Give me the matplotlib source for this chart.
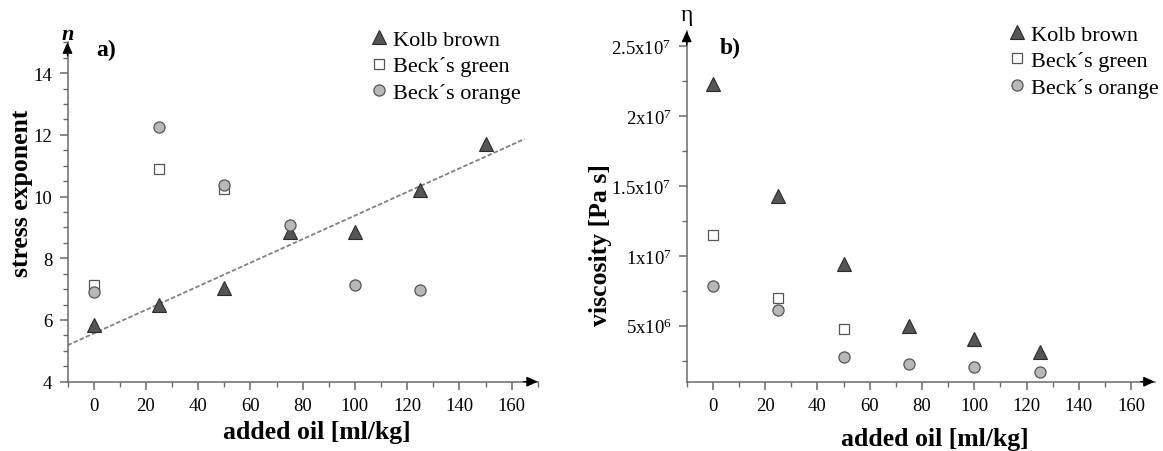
import numpy as np
import matplotlib
matplotlib.use("Agg")
import matplotlib.pyplot as plt
from matplotlib.ticker import MultipleLocator, FixedLocator, FixedFormatter

plt.rcParams['font.family'] = ['Liberation Serif', 'DejaVu Serif']
plt.rcParams['mathtext.fontset'] = 'custom'
plt.rcParams['mathtext.rm'] = 'Liberation Serif'

# ---- data ----
oil_kolb = [0, 25, 50, 75, 100, 125, 150]
n_kolb = [5.85, 6.5, 7.05, 8.85, 8.85, 10.2, 11.7]
oil_green = [0, 25, 50]
n_green = [7.15, 10.9, 10.25]
oil_orange = [0, 25, 50, 75, 100, 125]
n_orange = [6.9, 12.25, 10.38, 9.07, 7.15, 6.97]

oil_kolb_b = [0, 25, 50, 75, 100, 125]
eta_kolb = [2.23e7, 1.43e7, 9.4e6, 4.95e6, 4.05e6, 3.1e6]
oil_green_b = [0, 25, 50]
eta_green = [1.15e7, 6.95e6, 4.8e6]
oil_orange_b = [0, 25, 50, 75, 100, 125]
eta_orange = [7.85e6, 6.15e6, 2.75e6, 2.28e6, 2.07e6, 1.68e6]

labels = ["Kolb brown", "Beck\u00b4s green", "Beck\u00b4s orange"]
x_ticks = [0, 20, 40, 60, 80, 100, 120, 140, 160]
n_ticks = [4, 6, 8, 10, 12, 14]
eta_ticks = [5e6, 1e7, 1.5e7, 2e7, 2.5e7]
eta_ticklabels = [r'$\mathregular{5x10^{6}}$', r'$\mathregular{1x10^{7}}$',
                  r'$\mathregular{1.5x10^{7}}$', r'$\mathregular{2x10^{7}}$',
                  r'$\mathregular{2.5x10^{7}}$']

W, H = 1163, 452
fig = plt.figure(figsize=(W / 100, H / 100), dpi=100)

spine_col = '#6a6a6a'
tri_kw = dict(marker='^', ms=10, mfc='#555555', mec='#2a2a2a', mew=0.8, ls='none')
sq_kw = dict(marker='s', ms=7.5, mfc='white', mec='#555555', mew=0.9, ls='none')
ci_kw = dict(marker='o', ms=8, mfc='#b8b8b8', mec='#555555', mew=0.9, ls='none')

TICK_FS = 13.5
LAB_FS = 18.5
LEG_FS = 16


def style_axis(ax, xmin):
    for s in ['top', 'right']:
        ax.spines[s].set_visible(False)
    for s in ['left', 'bottom']:
        ax.spines[s].set_color(spine_col)
        ax.spines[s].set_linewidth(1.1)
    ax.tick_params(which='major', direction='out', length=6, width=1.1,
                   color=spine_col, labelsize=TICK_FS, pad=5)
    ax.tick_params(which='minor', direction='out', length=3.5, width=1.0,
                   color=spine_col)
    ap = dict(arrowstyle='-|>,head_length=0.55,head_width=0.25', color='black',
              lw=1.0, shrinkA=0, shrinkB=0, mutation_scale=12)
    ax.annotate('', xy=(1.0, ax.get_ylim()[0]), xycoords=ax.get_yaxis_transform(),
                xytext=(0.97, ax.get_ylim()[0]), textcoords=ax.get_yaxis_transform(),
                arrowprops=ap, annotation_clip=False)
    ax.annotate('', xy=(xmin, 1.0), xycoords=ax.get_xaxis_transform(),
                xytext=(xmin, 0.96), textcoords=ax.get_xaxis_transform(),
                arrowprops=ap, annotation_clip=False)


# ---------- panel a ----------
axa = fig.add_axes([67.5 / W, 69.3 / H, 470.3 / W, 339.4 / H])
axa.set_xlim(-10, 170)
axa.set_ylim(4, 15)
style_axis(axa, -10)
axa.xaxis.set_major_locator(FixedLocator(x_ticks))
axa.xaxis.set_minor_locator(MultipleLocator(10))
axa.yaxis.set_major_locator(FixedLocator(n_ticks))
axa.yaxis.set_minor_locator(MultipleLocator(0.5))

coef = np.polyfit(oil_kolb, n_kolb, 1)
xf = np.array([-10, 165])
axa.plot(xf, np.polyval(coef, xf), color='#808080', lw=1.3, ls=(0, (2.5, 1.2)))

axa.plot(oil_kolb, n_kolb, label=labels[0], **tri_kw)
axa.plot(oil_green, n_green, label=labels[1], **sq_kw)
axa.plot(oil_orange, n_orange, label=labels[2], **ci_kw)

axa.set_xlabel("added oil [ml/kg]", fontsize=LAB_FS, fontweight='bold')
axa.xaxis.label.set_va('center')
axa.xaxis.set_label_coords(0.53, -0.148)
axa.set_ylabel("stress exponent", fontsize=LAB_FS, fontweight='bold')
axa.yaxis.label.set_va('center')
axa.yaxis.set_label_coords(-0.097, 0.559)

fig.text(67.7 / W, 1 - 35 / H, "n", fontsize=16, fontweight='bold', style='italic',
         ha='center', va='center')
fig.text(106 / W, 1 - 50 / H, "a)", fontsize=17, fontweight='bold', ha='center', va='center')

axa.legend(loc='upper left', bbox_to_anchor=(0.639, 1.038), frameon=False,
           fontsize=LEG_FS, handlelength=1.0, handletextpad=0.12, borderpad=0,
           borderaxespad=0, labelspacing=0.26, numpoints=1)

# ---------- panel b ----------
axb = fig.add_axes([686.7 / W, 69.3 / H, 468 / W, 351 / H])
axb.set_xlim(-10, 169)
axb.set_ylim(1e6, 2.61e7)
style_axis(axb, -10)
axb.xaxis.set_major_locator(FixedLocator(x_ticks))
axb.xaxis.set_minor_locator(MultipleLocator(10))
axb.yaxis.set_major_locator(FixedLocator(eta_ticks))
axb.yaxis.set_major_formatter(FixedFormatter(eta_ticklabels))
axb.yaxis.set_minor_locator(MultipleLocator(2.5e6))

axb.plot(oil_kolb_b, eta_kolb, label=labels[0], **tri_kw)
axb.plot(oil_green_b, eta_green, label=labels[1], **sq_kw)
axb.plot(oil_orange_b, eta_orange, label=labels[2], **ci_kw)

axb.set_xlabel("added oil [ml/kg]", fontsize=LAB_FS, fontweight='bold')
axb.xaxis.label.set_va('center')
axb.xaxis.set_label_coords(0.53, -0.163)
axb.set_ylabel("viscosity [Pa s]", fontsize=LAB_FS, fontweight='bold')
axb.yaxis.label.set_va('center')
axb.yaxis.set_label_coords(-0.185, 0.392)

fig.text(686.7 / W, 1 - 16 / H, "\u03b7", fontsize=17, ha='center', va='center')
fig.text(730 / W, 1 - 48 / H, "b)", fontsize=17, fontweight='bold', ha='center', va='center')

axb.legend(loc='upper left', bbox_to_anchor=(0.683, 1.018), frameon=False,
           fontsize=LEG_FS, handlelength=1.0, handletextpad=0.12, borderpad=0,
           borderaxespad=0, labelspacing=0.26, numpoints=1)

fig.savefig("out.png", dpi=100)
